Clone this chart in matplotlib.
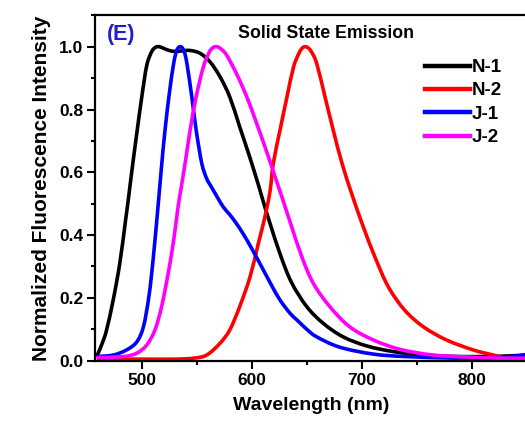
import matplotlib.pyplot as plt
from matplotlib.lines import Line2D
from matplotlib.patches import PathPatch
from matplotlib.path import Path
from matplotlib.ticker import MultipleLocator

plt.rcParams['font.family'] = ['Liberation Sans', 'DejaVu Sans']
plt.rcParams['font.weight'] = 'bold'

# emission spectra, wavelength (nm) vs normalized intensity
n1_wl = [459, 464, 468, 474, 480, 485, 488, 491, 495.5, 500, 504.5, 509, 512.5, 516, 521,
         526, 531, 537, 544, 553, 562, 571, 580, 589, 598, 606, 611, 616.6, 625.7, 636,
         650, 665, 683, 704.5, 728.7, 756, 780, 801, 825, 849]
n1_i = [0.013, 0.055, 0.098, 0.193, 0.31, 0.44, 0.52, 0.605, 0.725, 0.84, 0.94, 0.984, 0.998,
        1.0, 0.993, 0.987, 0.985, 0.987, 0.988, 0.979, 0.952, 0.905, 0.84, 0.745, 0.65,
        0.56, 0.5, 0.437, 0.34, 0.25, 0.172, 0.119, 0.076, 0.047, 0.029, 0.018, 0.014,
        0.013, 0.014, 0.018]

n2_wl = [459, 500, 530, 547, 559, 571, 580, 589, 598.5, 606, 612, 616.6, 619.6, 625.7, 632,
         638, 643, 646, 648.5, 651, 654, 659, 666.6, 674, 682, 691, 701.5, 712, 724, 739,
         756, 777, 801.5, 819.6, 832, 840, 849]
n2_i = [0.005, 0.005, 0.005, 0.008, 0.018, 0.055, 0.098, 0.172, 0.268, 0.374, 0.459, 0.54,
        0.629, 0.735, 0.84, 0.936, 0.98, 0.996, 1.0, 0.997, 0.985, 0.947, 0.84, 0.735,
        0.629, 0.53, 0.425, 0.33, 0.236, 0.161, 0.108, 0.066, 0.034, 0.018, 0.008, 0.009,
        0.013]

j1_wl = [459, 474, 486, 495.5, 501.5, 506, 509, 512, 515, 518, 521, 525, 529, 532, 535.5,
         538.5, 541, 545.5, 549.4, 554.5, 559, 563, 568, 574, 580, 586, 592, 600, 610.5,
         618, 625.7, 635, 641, 650, 659, 680, 710.5, 741, 786, 816, 841, 849]
j1_i = [0.013, 0.018, 0.034, 0.06, 0.108, 0.193, 0.278, 0.384, 0.5, 0.62, 0.73, 0.85,
        0.947, 0.99, 1.0, 0.985, 0.947, 0.84, 0.735, 0.629, 0.58, 0.555, 0.525, 0.49,
        0.465, 0.437, 0.405, 0.357, 0.289, 0.24, 0.193, 0.15, 0.13, 0.1, 0.076, 0.043,
        0.021, 0.013, 0.008, 0.008, 0.015, 0.02]

j2_wl = [459, 483, 495.5, 504.5, 512, 518, 524, 529, 533, 535.5, 539.4, 544, 549.4, 556, 561,
         564, 566.6, 569, 572, 577, 586, 595.5, 604.5, 613.6, 622.7, 628, 635, 645.5, 656,
         671, 689, 710.5, 735, 765, 801, 831, 849]
j2_i = [0.01, 0.013, 0.024, 0.05, 0.098, 0.172, 0.278, 0.384, 0.49, 0.544, 0.629, 0.735,
        0.84, 0.936, 0.98, 0.995, 1.0, 0.999, 0.993, 0.974, 0.915, 0.84, 0.755, 0.665, 0.57,
        0.515, 0.44, 0.331, 0.246, 0.172, 0.108, 0.066, 0.036, 0.018, 0.011, 0.008, 0.008]


def smooth_path(xs, ys):
    # Catmull-Rom through the points, written as cubic Bezier segments
    pts = list(zip(xs, ys))
    verts = [pts[0]]
    codes = [Path.MOVETO]
    for i in range(len(pts) - 1):
        p0 = pts[i - 1] if i > 0 else pts[i]
        p1, p2 = pts[i], pts[i + 1]
        p3 = pts[i + 2] if i + 2 < len(pts) else p2
        c1 = (p1[0] + (p2[0] - p0[0]) / 6, p1[1] + (p2[1] - p0[1]) / 6)
        c2 = (p2[0] - (p3[0] - p1[0]) / 6, p2[1] - (p3[1] - p1[1]) / 6)
        verts += [c1, c2, p2]
        codes += [Path.CURVE4] * 3
    return Path(verts, codes)


fig = plt.figure(figsize=(5.25, 4.24), dpi=100)
ax = fig.add_axes([0.181, 0.1493, 0.8224, 0.8146])

lw = 2.6
series = [(n1_wl, n1_i, 'black', 'N-1'),
          (n2_wl, n2_i, '#ff0000', 'N-2'),
          (j1_wl, j1_i, '#0000ff', 'J-1'),
          (j2_wl, j2_i, '#ff00ff', 'J-2')]
handles = []
for wl, inten, col, lab in series:
    ax.add_patch(PathPatch(smooth_path(wl, inten), fill=False, edgecolor=col, lw=lw,
                           joinstyle='round', capstyle='butt'))
    handles.append(Line2D([], [], color=col, lw=3.2, label=lab))

ax.set_xlim(457.5, 850)
ax.set_ylim(0, 1.1)
ax.xaxis.set_major_locator(MultipleLocator(100))
ax.xaxis.set_minor_locator(MultipleLocator(50))
ax.yaxis.set_minor_locator(MultipleLocator(0.1))
ax.set_yticks([0.0, 0.2, 0.4, 0.6, 0.8, 1.0])
ax.tick_params(which='major', direction='out', length=5.5, width=1.5, labelsize=12.5, pad=3)
ax.tick_params(which='minor', direction='out', length=3, width=1.5)
for s in ax.spines.values():
    s.set_linewidth(1.6)

ax.set_xlabel('Wavelength (nm)', fontsize=14, fontweight='bold', labelpad=7)
ax.set_ylabel('Normalized Fluorescence Intensity', fontsize=15, fontweight='bold', labelpad=6)

fig.text(107 / 525, 1 - 40 / 424, '(E)', color='#2020c8', fontsize=15.5,
         fontweight='bold', va='baseline')
fig.text(326 / 525, 1 - 38 / 424, 'Solid State Emission', fontsize=12.8,
         fontweight='bold', va='baseline', ha='center')

fig.legend(handles=handles, loc='upper left', bbox_to_anchor=(425 / 525, 1 - 59 / 424),
           frameon=False, fontsize=13.5, handlelength=2.4, handletextpad=0.1,
           labelspacing=0.33, borderpad=0, borderaxespad=0)

fig.savefig('out.png', dpi=100)
